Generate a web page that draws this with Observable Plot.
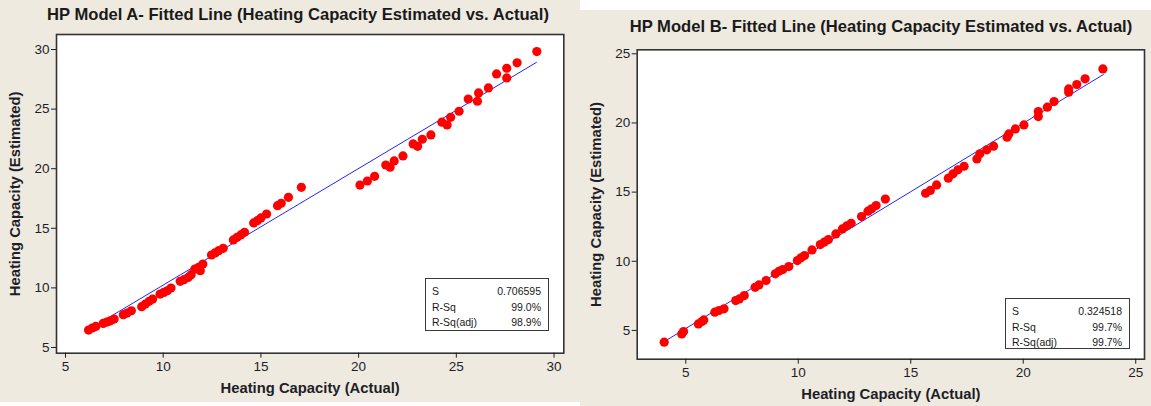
<!DOCTYPE html>
<html>
<head>
<meta charset="utf-8">
<script src="https://cdn.jsdelivr.net/npm/d3@7"></script>
<script src="https://cdn.jsdelivr.net/npm/@observablehq/plot@0.6"></script>
<style>
  html, body { margin: 0; padding: 0; background: #ffffff; }
  #wrap { position: relative; width: 1151px; height: 406px; overflow: hidden; background: #ffffff; }
  .bg { position: absolute; background: #eeeae0; }
  .panel { position: absolute; top: 0; }
  .title { position: absolute; font-family: "Liberation Sans", Arial, sans-serif; font-weight: bold; font-size: 16.6px; color: #1a1a1a; white-space: nowrap; transform: translate(-50%, -50%); }
  .stats { position: absolute; background: #ffffff; border: 1.5px solid #3a3a3a; box-sizing: border-box; font-family: "Liberation Sans", Arial, sans-serif; font-size: 10.5px; color: #1a1a1a; padding: 5px 7px 0 6px; }
  .stats .row { display: flex; justify-content: space-between; height: 15.5px; line-height: 15.5px; }
  g[aria-label="x-axis label"] text, g[aria-label="y-axis label"] text { font-weight: bold; font-size: 14.8px; }
</style>
</head>
<body>
<div id="wrap">
  <div class="bg" style="left:0;top:0;width:580px;height:402px;"></div>
  <div class="bg" style="left:580px;top:10px;width:571px;height:396px;"></div>
</div>
<script>
// ---------------- data ----------------
const titles = [
  "HP Model A- Fitted Line (Heating Capacity Estimated vs. Actual)",
  "HP Model B- Fitted Line (Heating Capacity Estimated vs. Actual)"
];
const xLabel = "Heating Capacity (Actual)";
const yLabel = "Heating Capacity (Estimated)";

// Model A scatter
const aActual = [6.18,6.37,6.55,6.93,7.12,7.30,7.49,7.96,8.15,8.37,8.90,9.09,9.28,9.46,9.84,10.03,10.21,10.40,10.87,11.06,11.28,11.43,11.62,11.81,11.90,12.03,12.47,12.65,12.84,13.07,13.59,13.78,13.97,14.16,14.63,14.82,15.00,15.29,15.85,16.04,16.41,17.07,
  20.07,20.45,20.82,21.39,21.61,21.82,22.27,22.79,23.02,23.26,23.70,24.26,24.53,24.71,25.14,25.61,26.08,26.14,26.64,27.06,27.58,27.58,28.11,29.12];
const aEstimated = [6.46,6.63,6.77,7.02,7.13,7.24,7.38,7.75,7.89,8.08,8.42,8.64,8.87,9.06,9.48,9.62,9.76,9.99,10.55,10.69,10.88,11.11,11.58,11.72,11.44,12.00,12.76,12.93,13.12,13.32,14.02,14.24,14.44,14.66,15.45,15.64,15.87,16.20,16.90,17.10,17.60,18.44,
  18.63,18.97,19.36,20.31,20.12,20.65,21.07,22.08,21.88,22.47,22.83,23.90,23.67,24.31,24.82,25.85,25.66,26.36,26.78,27.95,27.62,28.43,28.88,29.83];
// Model A fitted line (end points of the regression line)
const aFitActual = [6.2, 29.1];
const aFitEstimated = [6.52, 28.92];

// Model B scatter
const bActual = [4.04,4.82,4.90,5.56,5.72,5.80,6.29,6.48,6.70,7.22,7.38,7.60,8.08,8.25,8.57,8.98,9.14,9.31,9.58,9.96,10.12,10.28,10.61,10.98,11.15,11.34,11.67,11.96,12.16,12.35,12.81,13.10,13.26,13.46,13.87,
  15.66,15.87,16.15,16.67,16.88,17.10,17.37,17.94,18.07,18.38,18.68,19.28,19.36,19.65,20.03,20.67,20.67,21.07,21.37,22.02,22.02,22.38,22.75,23.54];
const bEstimated = [4.15,4.75,4.92,5.47,5.64,5.76,6.32,6.44,6.56,7.16,7.28,7.52,8.12,8.29,8.61,9.09,9.28,9.40,9.62,10.05,10.25,10.41,10.82,11.21,11.38,11.57,11.98,12.34,12.56,12.75,13.23,13.62,13.79,14.03,14.50,
  14.92,15.12,15.52,16.01,16.32,16.61,16.87,17.40,17.77,18.06,18.32,18.97,19.21,19.57,19.86,20.46,20.83,21.14,21.55,22.22,22.46,22.78,23.19,23.91];
// Model B fitted line
const bFitActual = [4.04, 23.56];
const bFitEstimated = [4.19, 23.50];

// tick values
const aXTicks = [5, 10, 15, 20, 25, 30];
const aYTicks = [5, 10, 15, 20, 25, 30];
const bXTicks = [5, 10, 15, 20, 25];
const bYTicks = [5, 10, 15, 20, 25];

// summary statistics
const statLabels = ["S", "R-Sq", "R-Sq(adj)"];
const aStatValues = ["0.706595", "99.0%", "98.9%"];
const bStatValues = ["0.324518", "99.7%", "99.7%"];

// ---------------- drawing ----------------
const toRows = (xs, ys) => xs.map((x, i) => ({x, y: ys[i]}));

function panel(opts) {
  const pts = toRows(opts.xs, opts.ys);
  const fit = toRows(opts.fx, opts.fy);
  return Plot.plot({
    width: opts.width,
    height: opts.height,
    marginLeft: opts.ml, marginRight: opts.mr, marginTop: opts.mt, marginBottom: opts.mb,
    style: {background: "transparent", fontFamily: "'Liberation Sans', Arial, sans-serif", fontSize: "13.5px", color: "#1e1e28", overflow: "visible"},
    x: {domain: opts.xDomain},
    y: {domain: opts.yDomain},
    marks: [
      Plot.frame({fill: "#ffffff"}),
      Plot.line(fit, {x: "x", y: "y", stroke: "#2323ff", strokeWidth: 1}),
      Plot.dot(pts, {x: "x", y: "y", r: 4.6, fill: "#ff0000", stroke: "none"}),
      Plot.frame({stroke: "#333333", strokeWidth: 1.6}),
      Plot.axisX({ticks: opts.xTicks, tickSize: 5, tickPadding: 3, label: xLabel, labelAnchor: "center", labelArrow: "none", labelOffset: 40}),
      Plot.axisY({ticks: opts.yTicks, tickSize: 5, tickPadding: 2, label: yLabel, labelAnchor: "center", labelArrow: "none", labelOffset: 47})
    ]
  });
}

const wrap = document.getElementById("wrap");

const plotA = panel({
  width: 580, height: 402, ml: 56, mr: 16.7, mt: 34, mb: 49.3,
  xDomain: [4.54, 30.5], yDomain: [4.52, 31.26],
  xs: aActual, ys: aEstimated, fx: aFitActual, fy: aFitEstimated,
  xTicks: aXTicks, yTicks: aYTicks
});
plotA.classList.add("panel");
plotA.style.left = "0px";
wrap.appendChild(plotA);

const plotB = panel({
  width: 571, height: 406, ml: 56.7, mr: 7, mt: 49.3, mb: 47.3,
  xDomain: [2.84, 25.39], yDomain: [2.92, 25.29],
  xs: bActual, ys: bEstimated, fx: bFitActual, fy: bFitEstimated,
  xTicks: bXTicks, yTicks: bYTicks
});
plotB.classList.add("panel");
plotB.style.left = "580px";
wrap.appendChild(plotB);

function addTitle(text, cx, cy) {
  const d = document.createElement("div");
  d.className = "title";
  d.textContent = text;
  d.style.left = cx + "px";
  d.style.top = cy + "px";
  wrap.appendChild(d);
}
addTitle(titles[0], 298, 15);
addTitle(titles[1], 881, 27);

function addStats(values, left, top, w, h) {
  const d = document.createElement("div");
  d.className = "stats";
  d.style.left = left + "px"; d.style.top = top + "px";
  d.style.width = w + "px"; d.style.height = h + "px";
  statLabels.forEach((lab, i) => {
    const r = document.createElement("div");
    r.className = "row";
    const a = document.createElement("span"); a.textContent = lab;
    const b = document.createElement("span"); b.textContent = values[i];
    r.appendChild(a); r.appendChild(b);
    d.appendChild(r);
  });
  wrap.appendChild(d);
}
addStats(aStatValues, 425, 278, 124, 53);
addStats(bStatValues, 1005, 298, 125, 51);
</script>
</body>
</html>
